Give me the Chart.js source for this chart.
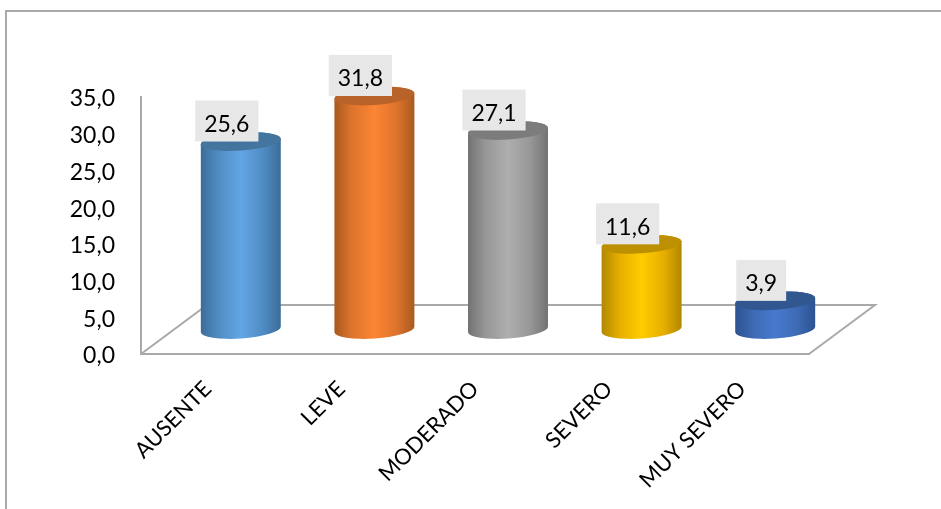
<!DOCTYPE html>
<html>
<head>
<meta charset="utf-8">
<style>
  html, body { margin: 0; padding: 0; background: #fff; }
  canvas { display: block; }
</style>
<script src="https://cdn.jsdelivr.net/npm/chart.js@4/dist/chart.umd.min.js"></script>
</head>
<body>
<canvas id="myChart" width="941" height="509"></canvas>
<script>
const categories = ['AUSENTE', 'LEVE', 'MODERADO', 'SEVERO', 'MUY SEVERO'];
const values = [25.6, 31.8, 27.1, 11.6, 3.9];
const valueTicks = ['0,0', '5,0', '10,0', '15,0', '20,0', '25,0', '30,0', '35,0'];

// [edge, mid, centre, cap]
const shades = [
  ['#3c6c97', '#4f8cc4', '#63a6e4', '#44759f'],
  ['#a85a20', '#dd742c', '#fd8434', '#b9622a'],
  ['#727272', '#979797', '#aeaeae', '#7c7c7c'],
  ['#b08700', '#e6ae00', '#ffcc00', '#bc9000'],
  ['#2c5290', '#3d6ab4', '#4779ce', '#32568f']
];

const lineColor = '#a9a9a9';
const fontName = 'Lato, Carlito, sans-serif';
const fontSize = 23;
const depthX = 66;
const depthY = 49;
const capHeight = 9;
const tilt = -4 * Math.PI / 180;

const cylinders = {
  id: 'cylinders',
  afterLayout(chart) {
    // Lato sits high on its middle baseline, nudge the value axis labels down
    const y = chart.scales.y;
    const drawLabels = y.drawLabels;
    y.drawLabels = function (area) {
      chart.ctx.save();
      chart.ctx.translate(0, 2);
      drawLabels.call(this, area);
      chart.ctx.restore();
    };
  },
  beforeDraw(chart) {
    const ctx = chart.ctx;
    const x = chart.scales.x;
    const y = chart.scales.y;
    ctx.save();
    ctx.strokeStyle = lineColor;
    ctx.lineWidth = 2;
    // outer frame
    ctx.beginPath();
    ctx.moveTo(6, chart.height);
    ctx.lineTo(6, 11);
    ctx.lineTo(chart.width, 11);
    ctx.stroke();
    // floor
    ctx.beginPath();
    ctx.moveTo(x.left, y.bottom);
    ctx.lineTo(x.left + depthX, y.bottom - depthY);
    ctx.lineTo(x.right + depthX, y.bottom - depthY);
    ctx.lineTo(x.right, y.bottom);
    ctx.stroke();
    ctx.restore();
  },
  beforeDatasetDraw(chart, args) {
    const ctx = chart.ctx;
    args.meta.data.forEach((bar, i) => {
      const rx = bar.width / 2;
      const cx = bar.x + depthX / 2;
      const top = bar.y - depthY / 2;
      const bottom = bar.base - depthY / 2;
      const c = shades[i];
      const g = ctx.createLinearGradient(cx - rx, 0, cx + rx, 0);
      g.addColorStop(0, c[0]);
      g.addColorStop(0.22, c[1]);
      g.addColorStop(0.5, c[2]);
      g.addColorStop(0.78, c[1]);
      g.addColorStop(1, c[0]);
      ctx.save();
      ctx.fillStyle = g;
      ctx.beginPath();
      ctx.ellipse(cx, bottom, rx, capHeight, tilt, 0, Math.PI, false);
      ctx.ellipse(cx, top, rx, capHeight, tilt, Math.PI, Math.PI * 2, false);
      ctx.closePath();
      ctx.fill();
      ctx.fillStyle = c[3];
      ctx.beginPath();
      ctx.ellipse(cx, top, rx, capHeight, tilt, 0, Math.PI * 2);
      ctx.fill();
      ctx.restore();
    });
    return false;
  },
  afterDatasetsDraw(chart) {
    const ctx = chart.ctx;
    const meta = chart.getDatasetMeta(0);
    ctx.save();
    ctx.font = fontSize + 'px ' + fontName;
    ctx.textAlign = 'center';
    ctx.textBaseline = 'middle';
    meta.data.forEach((bar, i) => {
      const text = values[i].toFixed(1).replace('.', ',');
      const w = ctx.measureText(text).width + 18;
      const cx = bar.x + depthX / 2 - 14;
      const bottom = bar.y - depthY / 2;
      ctx.fillStyle = '#e7e7e7';
      ctx.fillRect(cx - w / 2, bottom - 41, w, 41);
      ctx.fillStyle = '#000';
      ctx.fillText(text, cx, bottom - 17);
    });
    ctx.restore();
  }
};

new Chart(document.getElementById('myChart'), {
  type: 'bar',
  data: {
    labels: categories,
    datasets: [{
      label: 'Serie',
      data: values,
      backgroundColor: shades.map(c => c[2]),
      categoryPercentage: 1,
      barPercentage: 0.6
    }]
  },
  plugins: [cylinders],
  options: {
    responsive: false,
    animation: false,
    layout: {
      autoPadding: false,
      padding: { top: 97, right: 132, left: 0, bottom: 0 }
    },
    plugins: {
      legend: { display: false },
      title: { display: false },
      tooltip: { enabled: false }
    },
    scales: {
      x: {
        afterFit: s => { s.height = 155; },
        grid: { display: false, drawTicks: false },
        border: { display: true, color: lineColor, width: 2 },
        ticks: {
          color: '#000',
          padding: 22,
          minRotation: 45,
          maxRotation: 45,
          font: { family: fontName, size: fontSize - 1 }
        }
      },
      y: {
        min: 0,
        max: 35,
        afterFit: s => { s.width = 141; },
        grid: { display: false, drawTicks: false },
        border: { display: true, color: lineColor, width: 2 },
        ticks: {
          stepSize: 5,
          color: '#000',
          padding: 26,
          font: { family: fontName, size: fontSize },
          callback: (v, i) => valueTicks[i]
        }
      }
    }
  }
});
</script>
</body>
</html>
